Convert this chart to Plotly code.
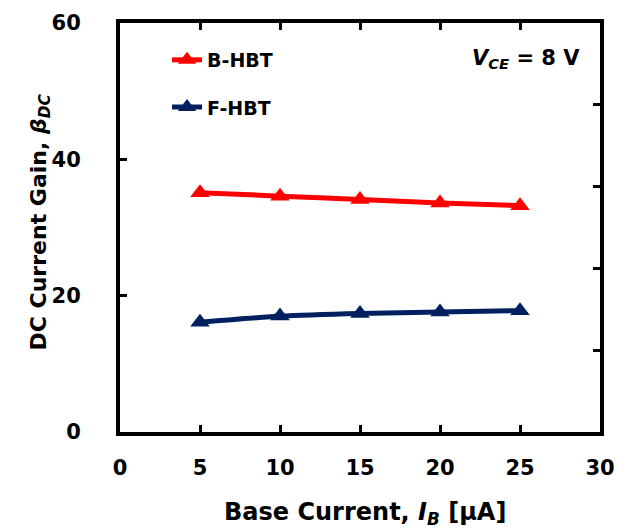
import plotly.graph_objects as go

ib = [5, 10, 15, 20, 25]
b_hbt = [35.1, 34.6, 34.1, 33.6, 33.2]
f_hbt = [16.1, 17.0, 17.4, 17.6, 17.8]
x_ticks = [0, 5, 10, 15, 20, 25, 30]
y_ticks = [0, 20, 40, 60]

FONT = "DejaVu Sans"
RED = "#FF0000"
NAVY = "#002060"

fig = go.Figure()
fig.add_trace(go.Scatter(
    x=ib, y=b_hbt, name="<b>B-HBT</b>", mode="lines+markers",
    line=dict(color=RED, width=5, shape="spline", smoothing=0.5),
    marker=dict(symbol="triangle-up", size=17, color=RED),
    legend="legend", showlegend=True,
))
fig.add_trace(go.Scatter(
    x=ib, y=f_hbt, name="<b>F-HBT</b>", mode="lines+markers",
    line=dict(color=NAVY, width=5, shape="spline", smoothing=0.5),
    marker=dict(symbol="triangle-up", size=17, color=NAVY),
    legend="legend2", showlegend=True,
))
fig.add_trace(go.Scatter(x=[], y=[], yaxis="y2", showlegend=False, hoverinfo="skip"))

axis_font = dict(family=FONT, size=21, color="black")
fig.update_layout(
    width=618, height=529,
    margin=dict(l=120, r=18, t=22.5, b=97),
    plot_bgcolor="white", paper_bgcolor="white",
    font=dict(family=FONT, color="black"),
    showlegend=True,
    xaxis=dict(
        range=[0, 30], tickvals=x_ticks, ticktext=[f"<b>{v}</b>" for v in x_ticks],
        ticks="inside", ticklen=7, tickwidth=3, tickcolor="black",
        showline=True, linewidth=4, linecolor="black", mirror="ticks",
        showgrid=False, zeroline=False, tickfont=axis_font, ticklabelstandoff=14,
        automargin=False,
    ),
    yaxis=dict(
        range=[0, 60], tickvals=y_ticks, ticktext=[f"<b>{v}</b>" for v in y_ticks],
        ticks="inside", ticklen=7, tickwidth=3, tickcolor="black",
        showline=True, linewidth=4, linecolor="black", mirror=True,
        showgrid=False, zeroline=False, tickfont=axis_font, ticklabelstandoff=31,
        automargin=False,
    ),
    yaxis2=dict(
        range=[0, 5], dtick=1, overlaying="y", side="right",
        ticks="inside", ticklen=7, tickwidth=3, tickcolor="black",
        showticklabels=False, showgrid=False, zeroline=False, showline=False,
        automargin=False,
    ),
    legend=dict(x=0.098, y=0.9096, xanchor="left", yanchor="middle",
                bgcolor="rgba(0,0,0,0)", font=dict(family=FONT, size=19, color="black"),
                itemwidth=30),
    legend2=dict(x=0.098, y=0.794, xanchor="left", yanchor="middle",
                 bgcolor="rgba(0,0,0,0)", font=dict(family=FONT, size=19, color="black"),
                 itemwidth=30),
    annotations=[
        dict(text="<b><i>V</i><sub><i>CE</i></sub> = 8 V</b>", x=0.9625, y=0.913,
             xref="paper", yref="paper", xanchor="right", yanchor="middle",
             showarrow=False, font=dict(family=FONT, size=21, color="black")),
        dict(text="<b>Base Current, <i>I</i><sub><i>B</i></sub> [μA]</b>",
             x=0.5, y=0, xref="paper", yref="paper", xanchor="center", yanchor="middle",
             xshift=5, yshift=-81, showarrow=False,
             font=dict(family=FONT, size=24, color="black")),
        dict(text="<b>DC Current Gain, <i>β</i><sub><i>DC</i></sub></b>",
             x=0, y=0.5, xref="paper", yref="paper", xanchor="center", yanchor="middle",
             xshift=-80, yshift=5, textangle=-90, showarrow=False,
             font=dict(family=FONT, size=22, color="black")),
    ],
)

fig.write_html("out.html", config={"displayModeBar": False},
               post_script="document.body.style.margin='0';")
